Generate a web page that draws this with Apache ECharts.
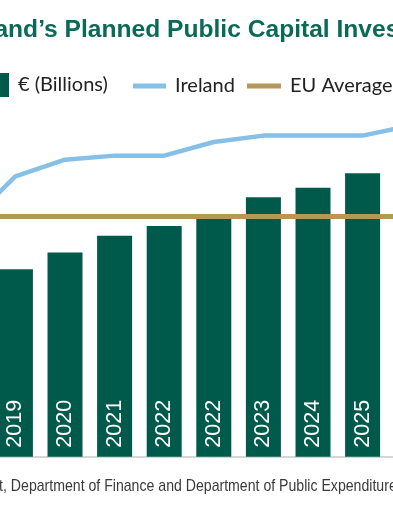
<!DOCTYPE html>
<html><head><meta charset="utf-8">
<script src="https://cdn.jsdelivr.net/npm/echarts@6/dist/echarts.min.js"></script>
<style>html,body{margin:0;padding:0;width:393px;height:507px;overflow:hidden;background:#fff}
#c{position:absolute;left:-59px;top:0;width:496px;height:507px}</style>
</head><body><div id="c"></div>
<script>
const years = ["2018","2019","2020","2021","2022","2022","2023","2024","2025","2026"];
const investment = [7.3, 7.8, 8.5, 9.2, 9.6, 10.1, 10.8, 11.2, 11.8, 12.3];
const ireland = [2.89, 3.50, 3.71, 3.76, 3.76, 3.93, 4.01, 4.01, 4.01, 4.14];
const euAverage = [3.0, 3.0, 3.0, 3.0, 3.0, 3.0, 3.0, 3.0, 3.0, 3.0];
const titleText = "Ireland’s Planned Public Capital Investment";
const sourcePrefix = "Source: National Development Plan, Budget";
const sourceRest = ", Department of Finance and Department of Public Expenditure and Reform";

const chart = echarts.init(document.getElementById('c'), null, {renderer: 'canvas'});
const legendText = {fontFamily: 'Lato', fontSize: 20, color: '#222', padding: [7, 0, 0, 4]};
const legendText2 = {fontFamily: 'Lato', fontSize: 20, color: '#222', padding: [0, 0, 0, 4]};
chart.setOption({
  animation: false,
  grid: {left: 0, right: 0, top: 120.4, bottom: 50.3, containLabel: false},
  legend: [
    {data: ['€ (Billions)'], left: 43, top: 73, padding: 0, itemWidth: 25, itemHeight: 24, icon: 'rect', textStyle: legendText, selectedMode: false},
    {data: ['Ireland'], left: 192, top: 76, padding: 0, itemWidth: 33, itemHeight: 5, icon: 'rect', textStyle: legendText2, selectedMode: false},
    {data: ['EU Average'], left: 306, top: 76, padding: 0, itemWidth: 34, itemHeight: 5, icon: 'rect', textStyle: legendText2, selectedMode: false}
  ],
  xAxis: {
    type: 'category', data: years, boundaryGap: true,
    axisLine: {show: true, lineStyle: {color: '#c8c8c8', width: 1.5}},
    axisTick: {show: false}, axisLabel: {show: false}, splitLine: {show: false}
  },
  yAxis: [
    {type: 'value', min: 0, max: 14, show: false, splitLine: {show: false}},
    {type: 'value', min: 0, max: 4.2, show: false, splitLine: {show: false}}
  ],
  series: [
    {name: '€ (Billions)', type: 'bar', data: investment, barWidth: 35,
     itemStyle: {color: '#005a4b'},
     label: {show: true, position: 'insideBottom', rotate: 90, align: 'left', verticalAlign: 'middle',
             distance: 9, formatter: '{b}', color: '#fff', fontSize: 21.5, fontFamily: 'Liberation Sans'}},
    {name: 'Ireland', type: 'line', yAxisIndex: 1, data: ireland, symbol: 'none', z: 3,
     lineStyle: {color: '#86c0e6', width: 4.5}, itemStyle: {color: '#86c0e6'}},
    {name: 'EU Average', type: 'line', yAxisIndex: 1, data: euAverage, symbol: 'none', z: 4,
     lineStyle: {color: '#b4975a', width: 5}, itemStyle: {color: '#b4975a'}}
  ],
  graphic: [
    {type: 'text', x: 16.5, y: 18, style: {text: titleText, verticalAlign: 'top', fontFamily: 'Liberation Sans', fontWeight: 'bold', fontSize: 24.6, fill: '#0b6a57'}},
    {type: 'text', x: 62, y: 477.5, scaleX: 0.83, style: {text: sourcePrefix, align: 'right', verticalAlign: 'top', fontFamily: 'Liberation Sans', fontSize: 17, fill: '#3a3a3a'}},
    {type: 'text', x: 62, y: 477.5, scaleX: 0.83, style: {text: sourceRest, align: 'left', verticalAlign: 'top', fontFamily: 'Liberation Sans', fontSize: 17, fill: '#3a3a3a'}}
  ]
});
</script></body></html>
